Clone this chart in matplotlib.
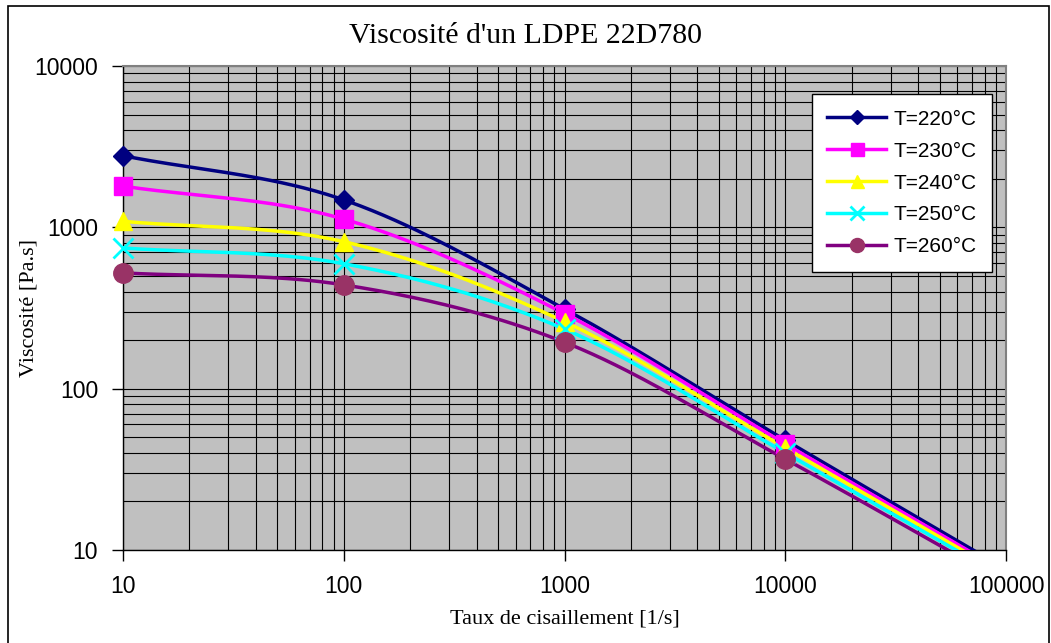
import numpy as np
import matplotlib
matplotlib.use('Agg')
from matplotlib import pyplot as plt
from matplotlib import ticker
from matplotlib.patches import Rectangle

# Shear rate [1/s] and viscosity [Pa.s] for each temperature
shear_rate = [10, 100, 1000, 10000, 100000]
labels = ['T=220°C', 'T=230°C', 'T=240°C', 'T=250°C', 'T=260°C']
visc_220 = [2780, 1480, 312, 48, 7.6]
visc_230 = [1800, 1125, 292, 45.5, 7.25]
visc_240 = [1090, 815, 260, 43, 6.95]
visc_250 = [745, 595, 234, 40, 6.65]
visc_260 = [522, 440, 194, 36.6, 6.25]
series = [visc_220, visc_230, visc_240, visc_250, visc_260]

line_colors = ['#000080', '#FF00FF', '#FFFF00', '#00FFFF', '#800080']
marker_colors = ['#000080', '#FF00FF', '#FFFF00', '#00FFFF', '#993366']
markers = ['D', 's', '^', 'x', 'o']
marker_sizes = [10, 13, 13, 14, 14]


# Smooth curve through the points in log-log space (like Excel's smoothed lines)
def smooth_curve(x, y, n=40):
    lx = np.log10(np.asarray(x, dtype=float))
    ly = np.log10(np.asarray(y, dtype=float))
    px = np.concatenate([[2 * lx[0] - lx[1]], lx, [2 * lx[-1] - lx[-2]]])
    py = np.concatenate([[2 * ly[0] - ly[1]], ly, [2 * ly[-1] - ly[-2]]])
    out_x, out_y = [], []
    t = np.linspace(0, 1, n)
    for i in range(1, len(px) - 2):
        for arr, out in ((px, out_x), (py, out_y)):
            p0, p1, p2, p3 = arr[i - 1], arr[i], arr[i + 1], arr[i + 2]
            seg = 0.5 * ((2 * p1) + (-p0 + p2) * t + (2 * p0 - 5 * p1 + 4 * p2 - p3) * t ** 2
                         + (-p0 + 3 * p1 - 3 * p2 + p3) * t ** 3)
            out.extend(seg)
    return 10 ** np.array(out_x), 10 ** np.array(out_y)


fig = plt.figure(figsize=(10.51, 6.43), dpi=100)
ax = fig.add_axes([123 / 1051, 1 - 550 / 643, (1006 - 123) / 1051, (550 - 66) / 643])
ax.set_facecolor('#C0C0C0')

# Outer chart frame
fig.patches.append(Rectangle((8 / 1051, -0.05), (1049 - 8) / 1051, 1.05 - 6 / 643,
                             transform=fig.transFigure, fill=False, edgecolor='black',
                             linewidth=1.2))

for i, vals in enumerate(series):
    sx, sy = smooth_curve(shear_rate, vals)
    ax.plot(sx, sy, color=line_colors[i], linewidth=2.5, zorder=3)
    mew = 2 if markers[i] == 'x' else 1
    pts = ax.plot(shear_rate[:4], vals[:4], linestyle='none', marker=markers[i],
                  markersize=marker_sizes[i], markerfacecolor=marker_colors[i],
                  markeredgecolor=marker_colors[i], markeredgewidth=mew, zorder=4)
    pts[0].set_clip_on(False)
    # legend handle
    ax.plot([], [], color=line_colors[i], linewidth=2.5, marker=markers[i],
            markersize=marker_sizes[i] * 0.72, markerfacecolor=marker_colors[i],
            markeredgecolor=marker_colors[i], markeredgewidth=mew, label=labels[i])

ax.set_xscale('log')
ax.set_yscale('log')
ax.set_xlim(10, 100000)
ax.set_ylim(10, 10000)

ax.grid(True, which='both', color='black', linewidth=0.8)
ax.set_axisbelow(True)
fmt = ticker.FuncFormatter(lambda v, p: '%g' % v)
ax.xaxis.set_major_formatter(fmt)
ax.yaxis.set_major_formatter(fmt)
ax.xaxis.set_minor_formatter(ticker.NullFormatter())
ax.yaxis.set_minor_formatter(ticker.NullFormatter())
ax.tick_params(which='major', direction='out', length=8, width=1, labelsize=16.5, pad=10,
               labelfontfamily='Liberation Sans')
ax.tick_params(which='minor', length=0)

for side in ['top', 'right']:
    ax.spines[side].set_color('#808080')
    ax.spines[side].set_linewidth(1.5)
for side in ['left', 'bottom']:
    ax.spines[side].set_color('black')
    ax.spines[side].set_linewidth(1)

fig.text(0.5, 1 - 36 / 643, "Viscosité d'un LDPE 22D780", ha='center', va='center',
         fontsize=21.5, family='Liberation Serif')
fig.text(565 / 1051, 1 - 619 / 643, 'Taux de cisaillement [1/s]', ha='center', va='center',
         fontsize=16, family='Liberation Serif')
fig.text(29 / 1051, 1 - 308 / 643, 'Viscosité [Pa.s]', ha='center', va='center',
         rotation=90, fontsize=16, family='Liberation Serif')

leg = ax.legend(loc='upper right', bbox_to_anchor=(0.984, 0.942), borderaxespad=0,
                frameon=True, fancybox=False, shadow=False, handlelength=2.8,
                prop={'family': 'Liberation Sans', 'size': 15}, labelspacing=0.62,
                borderpad=0.75, handletextpad=0.35)
leg.get_frame().set_edgecolor('black')
leg.get_frame().set_facecolor('white')
leg.get_frame().set_alpha(1)
leg.get_frame().set_linewidth(1)

fig.savefig('out.png', dpi=100)
